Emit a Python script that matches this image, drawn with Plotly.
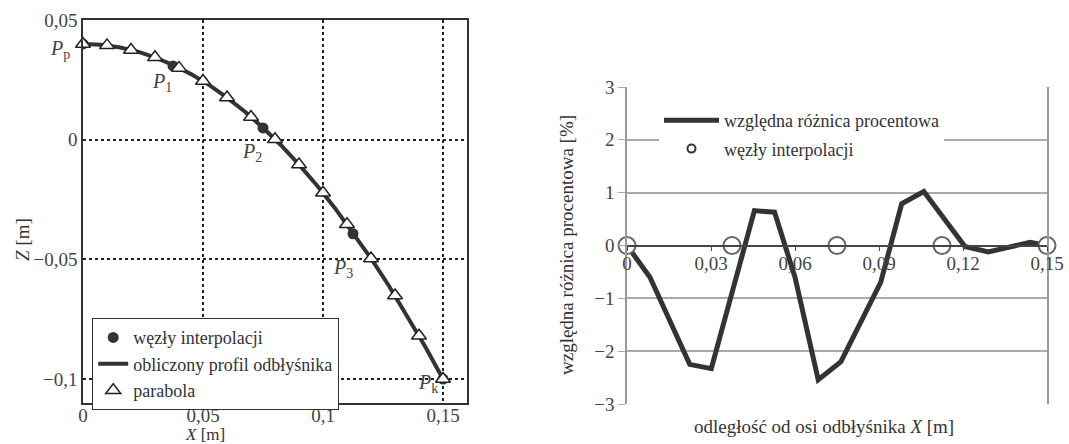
import plotly.graph_objects as go

# ---------------- data: left chart ----------------
parabola_x = [0.00, 0.01, 0.02, 0.03, 0.04, 0.05, 0.06, 0.07, 0.08, 0.09,
              0.10, 0.11, 0.12, 0.13, 0.14, 0.15]
parabola_z = [0.0400, 0.0394, 0.0375, 0.0344, 0.0300, 0.0245, 0.0176, 0.0095,
              0.0002, -0.0104, -0.0222, -0.0353, -0.0496, -0.0651, -0.0819, -0.1000]

profile_x = [0.0, 0.0075, 0.015, 0.0225, 0.03, 0.0375, 0.045, 0.0525, 0.06, 0.0675,
             0.075, 0.0825, 0.09, 0.0975, 0.105, 0.1125, 0.12, 0.1275, 0.135, 0.1425, 0.15]
profile_z = [0.0400, 0.0397, 0.0386, 0.0369, 0.0344, 0.0312, 0.0274, 0.0229, 0.0176, 0.0117,
             0.0050, -0.0023, -0.0104, -0.0191, -0.0286, -0.0389, -0.0496, -0.0611, -0.0734,
             -0.0863, -0.1000]

nodes_x = [0.0, 0.0375, 0.075, 0.1125, 0.15]
nodes_z = [0.0400, 0.0308, 0.0049, -0.0393, -0.1000]

node_labels = ["<i>P</i><sub>p</sub>", "<i>P</i><sub>1</sub>", "<i>P</i><sub>2</sub>",
               "<i>P</i><sub>3</sub>", "<i>P</i><sub>k</sub>"]

left_xticks = [0, 0.05, 0.10, 0.15]
left_xtext = ["0", "0,05", "0,1", "0,15"]
left_yticks = [0.05, 0.0, -0.05, -0.10]
left_ytext = ["0,05", "0", "\u22120,05", "\u22120,1"]

# ---------------- data: right chart ----------------
diff_x = [0.0, 0.0082, 0.0224, 0.0301, 0.0455, 0.0527, 0.0600, 0.0683, 0.0764,
          0.0906, 0.0981, 0.1060, 0.1207, 0.1290, 0.1440, 0.1500]
diff_y = [0.0, -0.60, -2.25, -2.33, 0.66, 0.63, -0.60, -2.54, -2.20,
          -0.70, 0.79, 1.02, -0.02, -0.12, 0.06, 0.0]

interp_x = [0.0, 0.0375, 0.075, 0.1125, 0.15]
interp_y = [0.0, 0.0, 0.0, 0.0, 0.0]

right_xticks = [0, 0.03, 0.06, 0.09, 0.12, 0.15]
right_xtext = ["0", "0,03", "0,06", "0,09", "0,12", "0,15"]
right_yticks = [-3, -2, -1, 0, 1, 2, 3]
right_ytext = ["\u22123", "\u22122", "\u22121", "0", "1", "2", "3"]

FONT = "Liberation Serif, Times New Roman, serif"
W, H = 1069, 444

fig = go.Figure()

# left chart traces
fig.add_trace(go.Scatter(x=profile_x, y=profile_z, mode="lines",
                         line=dict(color="#333333", width=4),
                         name="obliczony profil odbłyśnika",
                         legend="legend2", legendrank=2,
                         xaxis="x", yaxis="y"))
fig.add_trace(go.Scatter(x=nodes_x, y=nodes_z, mode="markers",
                         marker=dict(symbol="circle", size=11, color="#333333"),
                         name="węzły interpolacji",
                         legend="legend2", legendrank=1,
                         xaxis="x", yaxis="y"))
fig.add_trace(go.Scatter(x=parabola_x, y=parabola_z, mode="markers",
                         marker=dict(symbol="triangle-up", size=13, color="white",
                                     line=dict(color="#222222", width=1.5)),
                         name="parabola", cliponaxis=False,
                         legend="legend2", legendrank=3,
                         xaxis="x", yaxis="y"))

# right chart traces
fig.add_trace(go.Scatter(x=diff_x, y=diff_y, mode="lines",
                         line=dict(color="#333333", width=5),
                         name="względna różnica procentowa",
                         legend="legend", legendgroup="a",
                         xaxis="x2", yaxis="y2"))
fig.add_trace(go.Scatter(x=interp_x, y=interp_y, mode="markers",
                         marker=dict(symbol="circle", size=17, color="white",
                                     line=dict(color="#666666", width=2)),
                         showlegend=False, cliponaxis=False,
                         xaxis="x2", yaxis="y2"))
fig.add_trace(go.Scatter(x=[None], y=[None], mode="markers",
                         marker=dict(symbol="circle", size=8, color="white",
                                     line=dict(color="#333333", width=2)),
                         name="węzły interpolacji",
                         legend="legend", legendgroup="b",
                         xaxis="x2", yaxis="y2"))

tickfont = dict(family=FONT, size=19, color="#444444")

fig.update_layout(
    template="none",
    width=W, height=H, autosize=False,
    margin=dict(l=0, r=0, t=0, b=0, pad=0, autoexpand=False),
    paper_bgcolor="white", plot_bgcolor="white",
    font=dict(family=FONT, size=18, color="#333333"),
    xaxis=dict(domain=[83 / W, 467 / W], range=[0, 0.16], anchor="y",
               tickvals=left_xticks, ticktext=left_xtext, tickfont=tickfont,
               showgrid=True, griddash="dot", gridcolor="#222222", gridwidth=1.5,
               showline=True, linecolor="#333333", linewidth=1.5, mirror=True,
               zeroline=False, ticks="", automargin=False, ticklabelstandoff=-6),
    yaxis=dict(domain=[1 - 403 / H, 1 - 20 / H], range=[-0.11, 0.05], anchor="x",
               tickvals=left_yticks, ticktext=left_ytext, tickfont=tickfont,
               showgrid=True, griddash="dot", gridcolor="#222222", gridwidth=1.5,
               showline=True, linecolor="#333333", linewidth=1.5, mirror=True,
               zeroline=False, ticks="", automargin=False),
    xaxis2=dict(domain=[627 / W, 1047 / W], range=[0, 0.15], anchor="free",
                position=1 - 246 / H,
                tickvals=right_xticks, ticktext=right_xtext, tickfont=tickfont,
                showgrid=False, showline=True, linecolor="#444444", linewidth=1.5,
                zeroline=False, ticks="outside", ticklen=4, tickcolor="#444444",
                automargin=False, ticklabelstandoff=-4),
    yaxis2=dict(domain=[1 - 404 / H, 1 - 87 / H], range=[-3, 3], anchor="x2",
                tickvals=right_yticks, ticktext=right_ytext, tickfont=tickfont,
                showgrid=True, gridcolor="#aaaaaa", gridwidth=1.5,
                showline=True, linecolor="#999999", linewidth=1.5, mirror=True,
                zeroline=False, ticks="outside", ticklen=7, tickcolor="#aaaaaa",
                automargin=False),
    legend=dict(x=659 / W, y=1 - 102 / H, xanchor="left", yanchor="top",
                bgcolor="white", borderwidth=0, tracegroupgap=2, itemwidth=55,
                font=dict(family=FONT, size=18, color="#333333")),
    legend2=dict(x=92 / W, y=1 - 318 / H, xanchor="left", yanchor="top",
                 bgcolor="white", bordercolor="#333333", borderwidth=1.2,
                 font=dict(family=FONT, size=18, color="#333333"),
                 tracegroupgap=0),
    showlegend=True,
)

# node labels on left chart
label_pos_x = [0.0, 0.033, 0.0704, 0.1083, 0.1438]
label_pos_z = [0.0375, 0.0238, -0.0054, -0.0540, -0.1017]
label_shift = [-23, 0, 0, 0, 0]
for lx, lz, t, sh in zip(label_pos_x, label_pos_z, node_labels, label_shift):
    fig.add_annotation(x=lx, y=lz, xref="x", yref="y", text=t, showarrow=False,
                       xshift=sh, xanchor="center", yanchor="middle",
                       font=dict(family=FONT, size=20, color="#444444"))

# axis titles
fig.add_annotation(x=205 / W, y=1 - 434 / H, xref="paper", yref="paper",
                   text="<i>X</i> [m]", showarrow=False,
                   xanchor="center", yanchor="middle",
                   font=dict(family=FONT, size=17, color="#333333"))
fig.add_annotation(x=22 / W, y=1 - 240 / H, xref="paper", yref="paper",
                   text="<i>Z</i> [m]", showarrow=False, textangle=-90,
                   xanchor="center", yanchor="middle",
                   font=dict(family=FONT, size=19, color="#333333"))
fig.add_annotation(x=566 / W, y=1 - 245 / H, xref="paper", yref="paper",
                   text="względna różnica procentowa [%]", showarrow=False, textangle=-90,
                   xanchor="center", yanchor="middle",
                   font=dict(family=FONT, size=19, color="#333333"))
fig.add_annotation(x=824 / W, y=1 - 426 / H, xref="paper", yref="paper",
                   text="odległość od osi odbłyśnika <i>X</i> [m]", showarrow=False,
                   xanchor="center", yanchor="middle",
                   font=dict(family=FONT, size=19, color="#333333"))

fig.write_html("out.html")
